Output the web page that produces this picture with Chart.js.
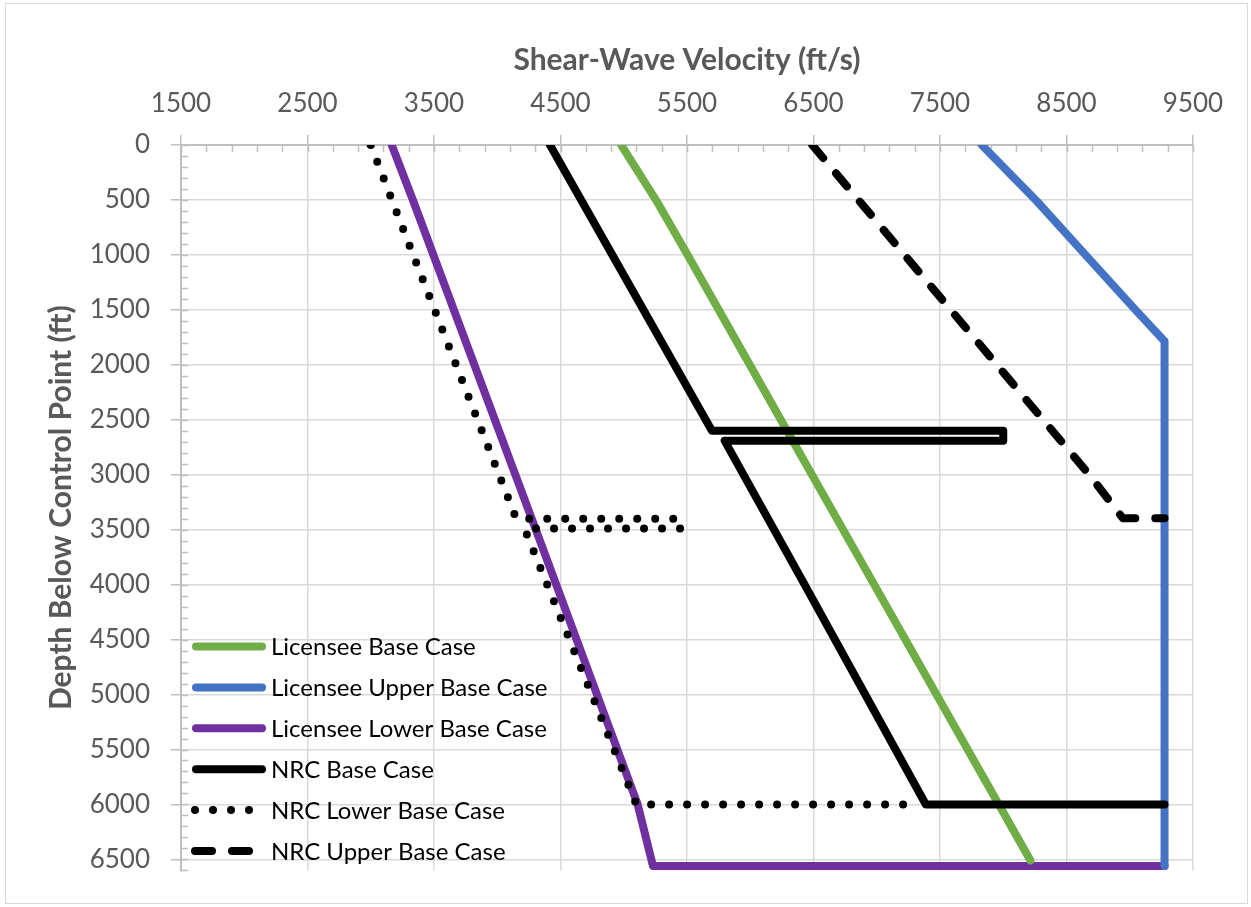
<!DOCTYPE html>
<html>
<head>
<meta charset="utf-8">
<script src="https://cdn.jsdelivr.net/npm/chart.js@4.4.1/dist/chart.umd.min.js"></script>
<style>
  html, body { margin: 0; padding: 0; background: #fff; }
  #wrap { position: absolute; left: 0; top: 0; width: 1251px; height: 907px; }
  #frame { position: absolute; left: 5px; top: 3px; width: 1241px; height: 899px; border: 1px solid #d9d9d9; pointer-events: none; }
</style>
</head>
<body>
<div id="wrap">
  <canvas id="chart" width="1251" height="907"></canvas>
  <div id="frame"></div>
</div>
<script>
// profile vertices (velocity ft/s, depth ft)
const licBaseDepth = [0, 510, 1000, 1570, 2700, 4000, 6000, 6510];
const licBaseVel   = [4980, 5260, 5505, 5785, 6340, 6980, 7965, 8215];

const licUpperDepth = [0, 510, 1000, 1500, 1785, 6560];
const licUpperVel   = [7830, 8264, 8650, 9045, 9275, 9275];

const licLowerDepth = [0, 510, 3500, 6000, 6560, 6560];
const licLowerVel   = [3166, 3336, 4305, 5110, 5231, 9275];

const nrcBaseDepth = [0, 1000, 2600, 2600, 2690, 2690, 4000, 6000, 6000];
const nrcBaseVel   = [4417, 4910, 5697, 8000, 8000, 5797, 6430, 7388, 9275];

const nrcLowerDepth = [0, 1000, 3400, 3400, 3490, 3490, 6000, 6000];
const nrcLowerVel   = [3000, 3335, 4150, 5450, 5450, 4215, 5100, 7330];

const nrcUpperDepth = [0, 1000, 2000, 3000, 3395, 3395];
const nrcUpperVel   = [6490, 7220, 7950, 8680, 8945, 9275];

const xTicks = [1500, 2500, 3500, 4500, 5500, 6500, 7500, 8500, 9500];
const yTicks = [0, 500, 1000, 1500, 2000, 2500, 3000, 3500, 4000, 4500, 5000, 5500, 6000, 6500];

const xTitle = 'Shear-Wave Velocity (ft/s)';
const yTitle = 'Depth Below Control Point (ft)';

function pts(vel, depth) {
  return depth.map((d, i) => ({ x: vel[i], y: d }));
}

const grey = '#595959';
const axisGrey = '#bfbfbf';

const datasets = [
  { label: 'Licensee Base Case', data: pts(licBaseVel, licBaseDepth), borderColor: '#70ad47', order: 2 },
  { label: 'Licensee Upper Base Case', data: pts(licUpperVel, licUpperDepth), borderColor: '#4472c4', order: 2 },
  { label: 'Licensee Lower Base Case', data: pts(licLowerVel, licLowerDepth), borderColor: '#7030a0', order: 2 },
  { label: 'NRC Base Case', data: pts(nrcBaseVel, nrcBaseDepth), borderColor: '#000000', order: 1 },
  { label: 'NRC Lower Base Case', data: pts(nrcLowerVel, nrcLowerDepth), borderColor: '#000000', borderDash: [0, 18], order: 1 },
  { label: 'NRC Upper Base Case', data: pts(nrcUpperVel, nrcUpperDepth), borderColor: '#000000', borderDash: [17, 20], order: 1 }
].map(ds => Object.assign({
  showLine: true,
  fill: false,
  tension: 0,
  pointRadius: 0,
  borderWidth: 8,
  borderCapStyle: 'round',
  borderJoinStyle: 'round',
  borderDash: []
}, ds));

// small inside ticks between the labelled ones
const minorTicks = {
  id: 'minorTicks',
  beforeDatasetsDraw(chart) {
    const { ctx, chartArea: a, scales: { x, y } } = chart;
    ctx.save();
    ctx.strokeStyle = axisGrey;
    ctx.lineWidth = 1.5;
    ctx.beginPath();
    for (let v = x.min; v <= x.max; v += 200) {
      const px = Math.round(x.getPixelForValue(v)) + 0.5;
      ctx.moveTo(px, a.top);
      ctx.lineTo(px, a.top + 7);
    }
    for (let d = y.min; d <= y.max; d += 100) {
      const py = Math.round(y.getPixelForValue(d)) + 0.5;
      ctx.moveTo(a.left, py);
      ctx.lineTo(a.left + 7, py);
    }
    ctx.stroke();
    ctx.restore();
  }
};

// legend drawn inside the plot, lower left
const insideLegend = {
  id: 'insideLegend',
  afterDraw(chart) {
    const ctx = chart.ctx;
    const x0 = 196, x1 = 262, tx = 271;
    let yy = 646.5;
    ctx.save();
    ctx.font = '24px Lato';
    ctx.textBaseline = 'middle';
    chart.data.datasets.forEach(ds => {
      const dashed = ds.borderDash.length > 0;
      ctx.strokeStyle = ds.borderColor;
      ctx.lineWidth = ds.borderWidth;
      ctx.lineCap = 'round';
      ctx.setLineDash(ds.borderDash);
      ctx.beginPath();
      ctx.moveTo(dashed ? 195 : x0, yy);
      ctx.lineTo(dashed ? 254 : x1, yy);
      ctx.stroke();
      ctx.setLineDash([]);
      ctx.fillStyle = '#000';
      ctx.fillText(ds.label, tx, yy + 1);
      yy += 40.9;
    });
    ctx.restore();
  }
};

new Chart(document.getElementById('chart').getContext('2d'), {
  type: 'scatter',
  data: { datasets: datasets },
  options: {
    responsive: false,
    animation: false,
    layout: { padding: { left: 0, top: 0, right: 58, bottom: 29 } },
    plugins: { legend: { display: false }, tooltip: { enabled: false } },
    scales: {
      x: {
        type: 'linear',
        position: 'top',
        min: 1500,
        max: 9500,
        afterFit(s) { s.height = 145; },
        afterBuildTicks(s) { s.ticks = xTicks.map(v => ({ value: v })); },
        ticks: {
          autoSkip: false,
          maxRotation: 0,
          color: grey,
          padding: 16,
          font: { family: 'Lato', size: 26 },
          callback: v => String(v)
        },
        grid: { color: '#d9d9d9', lineWidth: 1.5, tickLength: 10, tickColor: axisGrey },
        border: { color: axisGrey, width: 2 },
        title: {
          display: true,
          text: xTitle,
          color: grey,
          font: { family: 'Lato', size: 30, weight: 'bold' },
          padding: { top: 42, bottom: 0 }
        }
      },
      y: {
        type: 'linear',
        reverse: true,
        min: 0,
        max: 6600,
        afterFit(s) { s.width = 181; },
        afterBuildTicks(s) { s.ticks = yTicks.map(v => ({ value: v })); },
        ticks: {
          autoSkip: false,
          color: grey,
          padding: 21,
          font: { family: 'Lato', size: 26 },
          callback: v => String(v)
        },
        grid: { color: '#d9d9d9', lineWidth: 1.5, tickLength: 10, tickColor: axisGrey },
        border: { color: axisGrey, width: 2 },
        title: {
          display: true,
          text: yTitle,
          color: grey,
          font: { family: 'Lato', size: 30, weight: 'bold' },
          padding: { top: 43, bottom: 0 }
        }
      }
    }
  },
  plugins: [minorTicks, insideLegend]
});
</script>
</body>
</html>
